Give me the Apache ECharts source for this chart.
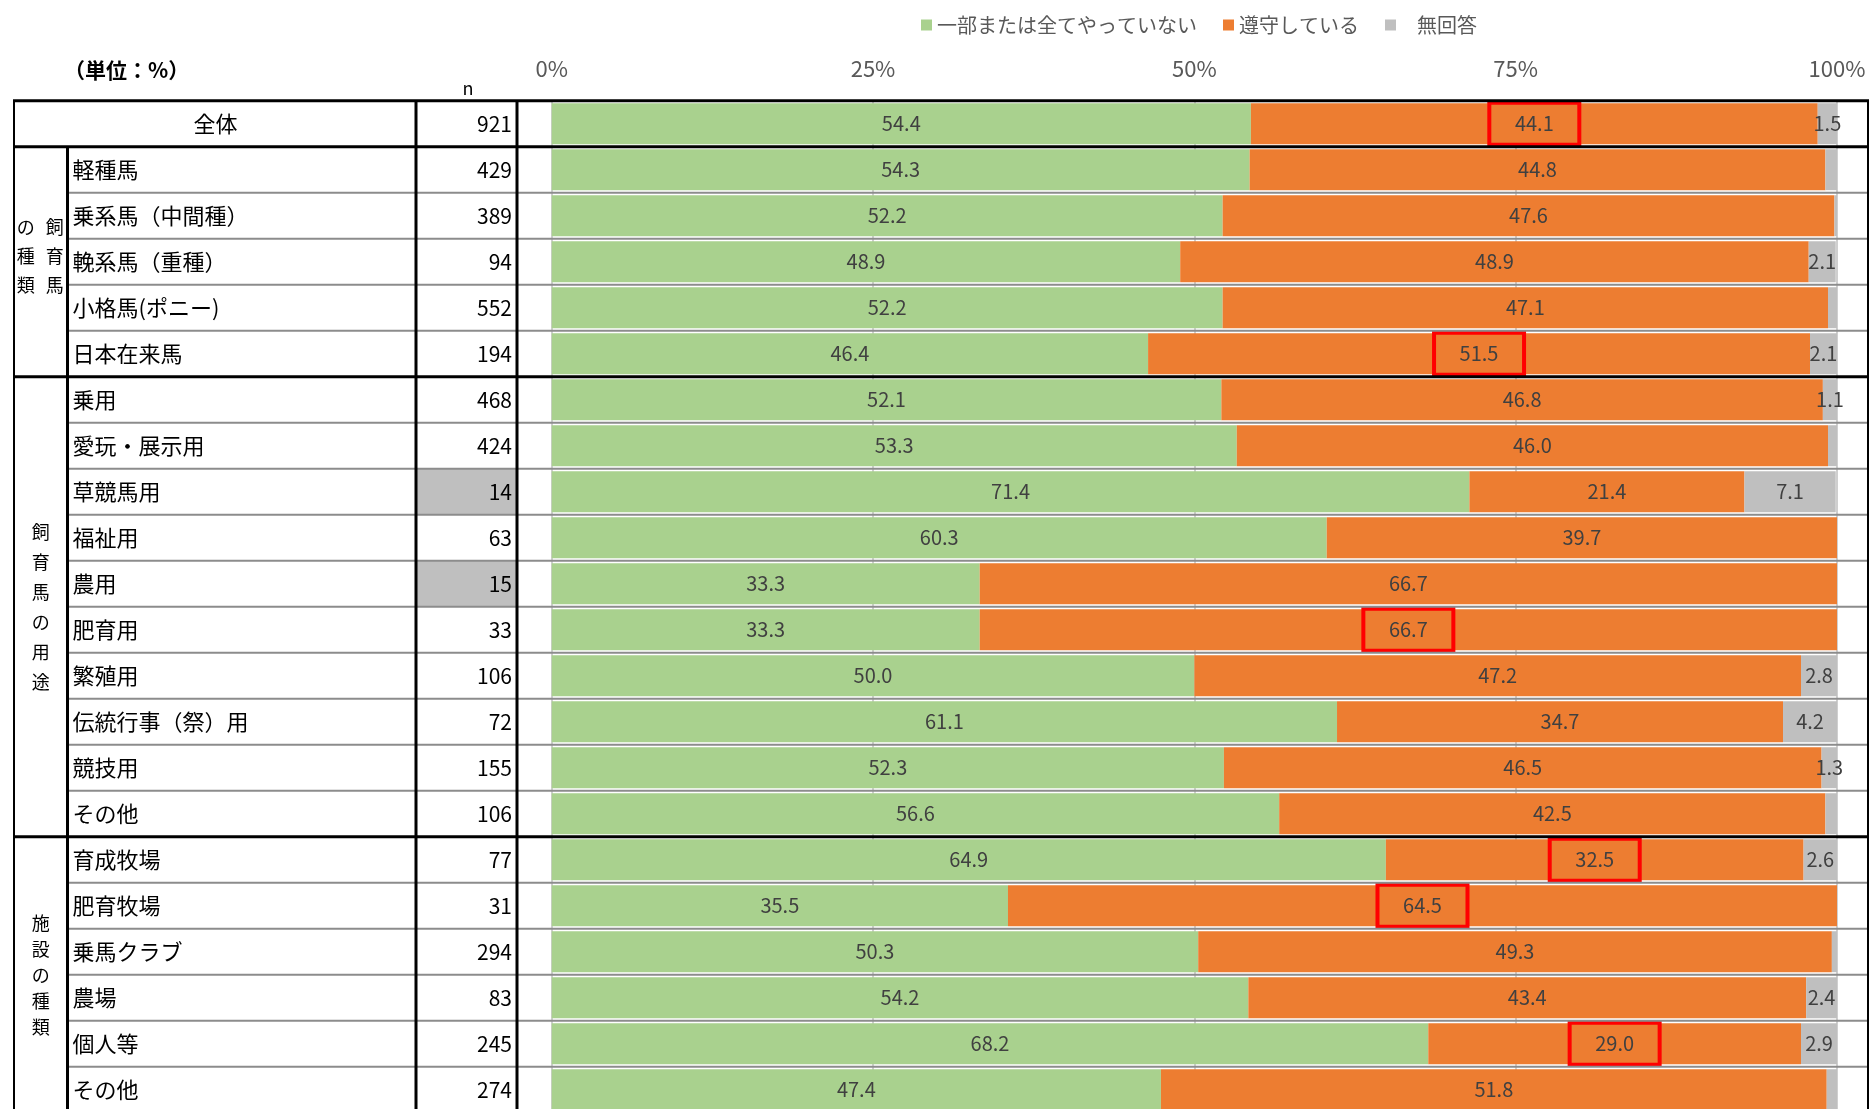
<!DOCTYPE html>
<html lang="ja">
<head>
<meta charset="utf-8">
<title>飼養衛生管理基準の遵守状況</title>
<script src="https://cdn.jsdelivr.net/npm/echarts@6/dist/echarts.min.js"></script>
<style>
  html, body { margin: 0; padding: 0; background: #ffffff; }
  #chart { width: 1872px; height: 1109px; }
</style>
</head>
<body>
<div id="chart"></div>
<script>
// ---- data -------------------------------------------------------------
const categories = ['全体', '軽種馬', '乗系馬（中間種）', '輓系馬（重種）', '小格馬(ポニー)', '日本在来馬',
  '乗用', '愛玩・展示用', '草競馬用', '福祉用', '農用', '肥育用', '繁殖用', '伝統行事（祭）用', '競技用', 'その他',
  '育成牧場', '肥育牧場', '乗馬クラブ', '農場', '個人等', 'その他'];
const nValues = [921, 429, 389, 94, 552, 194, 468, 424, 14, 63, 15, 33, 106, 72, 155, 106, 77, 31, 294, 83, 245, 274];
const notDoing = [54.4, 54.3, 52.2, 48.9, 52.2, 46.4, 52.1, 53.3, 71.4, 60.3, 33.3, 33.3, 50.0, 61.1, 52.3, 56.6,
  64.9, 35.5, 50.3, 54.2, 68.2, 47.4];
const complying = [44.1, 44.8, 47.6, 48.9, 47.1, 51.5, 46.8, 46.0, 21.4, 39.7, 66.7, 66.7, 47.2, 34.7, 46.5, 42.5,
  32.5, 64.5, 49.3, 43.4, 29.0, 51.8];
const noAnswer = [1.5, 0.9, 0.2, 2.1, 0.7, 2.1, 1.1, 0.7, 7.1, 0.0, 0.0, 0.0, 2.8, 4.2, 1.3, 0.9,
  2.6, 0.0, 0.4, 2.4, 2.9, 0.8];
const seriesNames = ['一部または全てやっていない', '遵守している', '無回答'];
const xTicks = [0, 25, 50, 75, 100];
// rows whose "遵守している" value is framed in red
const boxedRows = [0, 5, 11, 16, 17, 20];
// sample sizes below this are shaded
const smallSample = 30;
// row groups: [first row, last row, caption columns (right to left)]
const groups = [
  [1, 5, ['飼育馬', 'の種類']],
  [6, 15, ['飼育馬の用途']],
  [16, 21, ['施設の種類']]
];

// ---- layout -----------------------------------------------------------
const FONT = '"Noto Sans CJK JP", "Noto Sans", sans-serif';
const TOP = 100.7, ROW = 46, PLOT_L = 551.7, PLOT_R = 1837;
const X_OUT = 14, X_GRP = 67.5, X_N = 416, X_GAP = 517, X_END = 1868;
const rowY = i => TOP + i * ROW;

const COLORS = ['#A9D18E', '#ED7D31', '#BFBFBF'];
const LABEL_COLOR = '#404040';

const chart = echarts.init(document.getElementById('chart'), null, { renderer: 'canvas' });

function barLabel(minShow) {
  return {
    show: true,
    position: 'inside',
    color: LABEL_COLOR,
    fontFamily: FONT,
    fontSize: 20,
    formatter: p => (p.value >= minShow ? Number(p.value).toFixed(1) : '')
  };
}

const complyingData = complying.map((v, i) => boxedRows.includes(i)
  ? {
      value: v,
      label: {
        borderColor: '#FF0000', borderWidth: 4,
        width: 90, height: 42, lineHeight: 42,
        align: 'center', verticalAlign: 'middle'
      }
    }
  : v);

// ---- table rules (structure, drawn from the layout constants) ---------
const graphics = [];
function hline(y, x1, x2, color, w) {
  graphics.push({ type: 'line', silent: true, z: 50,
    shape: { x1, y1: y, x2, y2: y }, style: { stroke: color, lineWidth: w } });
}
function vline(x, y1, y2, color, w) {
  graphics.push({ type: 'line', silent: true, z: 51,
    shape: { x1: x, y1, x2: x, y2 }, style: { stroke: color, lineWidth: w } });
}
const groupStarts = [0, 1].concat(groups.map(g => g[0]));
for (let i = 0; i <= categories.length; i++) {
  if (groupStarts.includes(i) || i === categories.length) {
    hline(rowY(i), X_OUT - 1, X_END + 1, '#000000', 3);
  } else {
    hline(rowY(i), X_GRP, X_END, '#8C8C8C', 2);
  }
}
const yBottom = rowY(categories.length);
vline(X_OUT, TOP, yBottom, '#000000', 2);
vline(X_GRP, rowY(1), yBottom, '#000000', 3);
vline(X_N, TOP, yBottom, '#000000', 3);
vline(X_GAP, TOP, yBottom, '#000000', 3);
vline(X_END, TOP, yBottom, '#000000', 2);

// vertical group captions
groups.forEach(([a, b, cols]) => {
  const mid = (rowY(a) + rowY(b + 1)) / 2;
  const tight = cols.length > 1;
  const lh = tight ? 29 : (b - a > 6 ? 30 : 26);
  const cx = (X_OUT + X_GRP) / 2;
  cols.forEach((txt, k) => {
    const x = tight ? (k === 0 ? cx + 14 : cx - 15) : cx;
    graphics.push({
      type: 'text', silent: true, z: 52,
      x, y: tight ? mid - 6 : mid,
      style: {
        text: txt.split('').join('\n'),
        font: '18px ' + FONT, fill: '#000000',
        lineHeight: lh, align: 'center', verticalAlign: 'middle'
      }
    });
  });
});

// header texts
graphics.push({ type: 'text', silent: true, x: 64, y: 70,
  style: { text: '（単位：%）', font: 'bold 21px ' + FONT, fill: '#000000', align: 'left', verticalAlign: 'middle' } });
graphics.push({ type: 'text', silent: true, x: 468, y: 88,
  style: { text: 'n', font: '18px ' + FONT, fill: '#000000', align: 'center', verticalAlign: 'middle' } });

// ---- chart ------------------------------------------------------------
const option = {
  animation: false,
  backgroundColor: '#ffffff',
  textStyle: { fontFamily: FONT },
  color: COLORS,
  legend: {
    left: 921, top: 15, padding: 0,
    itemWidth: 11, itemHeight: 11, itemGap: 26,
    icon: 'rect',
    data: seriesNames,
    textStyle: {
      fontFamily: FONT, fontSize: 20, color: '#595959',
      rich: { gap: { width: 16 } }
    },
    formatter: name => (name === '無回答' ? '{gap|}' + name : name)
  },
  grid: {
    left: PLOT_L, top: TOP, width: PLOT_R - PLOT_L, height: ROW * categories.length,
    containLabel: false,
    outerBoundsMode: 'none'
  },
  xAxis: {
    type: 'value', position: 'top',
    min: xTicks[0], max: xTicks[xTicks.length - 1], interval: xTicks[1] - xTicks[0],
    axisLine: { show: false }, axisTick: { show: false },
    axisLabel: { formatter: '{value}%', color: '#595959', fontSize: 22, fontFamily: FONT, margin: 21 },
    splitLine: { show: true, lineStyle: { color: '#BFBFBF', width: 1.5 } }
  },
  yAxis: [
    {
      type: 'category', inverse: true, position: 'left',
      data: categories.map((c, i) => i === 0
        ? { value: c, textStyle: { align: 'left', padding: [0, 0, 0, 121] } }
        : c),
      axisLine: { show: false }, axisTick: { show: false }, splitLine: { show: false },
      axisLabel: {
        align: 'left', margin: PLOT_L - 72.5, interval: 0,
        color: '#000000', fontSize: 22, fontFamily: FONT,
        formatter: (v, i) => categories[i]
      }
    },
    {
      type: 'category', inverse: true, position: 'left', offset: 0,
      data: nValues.map((n, i) => n < smallSample
        ? { value: 'r' + i, textStyle: { align: 'right', backgroundColor: '#BFBFBF', width: 96, height: ROW, lineHeight: ROW, padding: [0, 5, 0, 0] } }
        : 'r' + i),
      axisLine: { show: false }, axisTick: { show: false }, splitLine: { show: false },
      axisLabel: {
        align: 'right', margin: PLOT_L - X_GAP, interval: 0, padding: [0, 5, 0, 0],
        color: '#000000', fontSize: 21, fontFamily: FONT,
        formatter: (v, i) => String(nValues[i])
      }
    }
  ],
  series: [
    { name: seriesNames[0], type: 'bar', stack: 'all', yAxisIndex: 0, barCategoryGap: '11%',
      data: notDoing, label: barLabel(0) },
    { name: seriesNames[1], type: 'bar', stack: 'all', yAxisIndex: 0, barCategoryGap: '11%',
      data: complyingData, label: barLabel(0) },
    { name: seriesNames[2], type: 'bar', stack: 'all', yAxisIndex: 0, barCategoryGap: '11%',
      data: noAnswer, label: barLabel(1) }
  ],
  graphic: graphics
};

chart.setOption(option);
</script>
</body>
</html>
